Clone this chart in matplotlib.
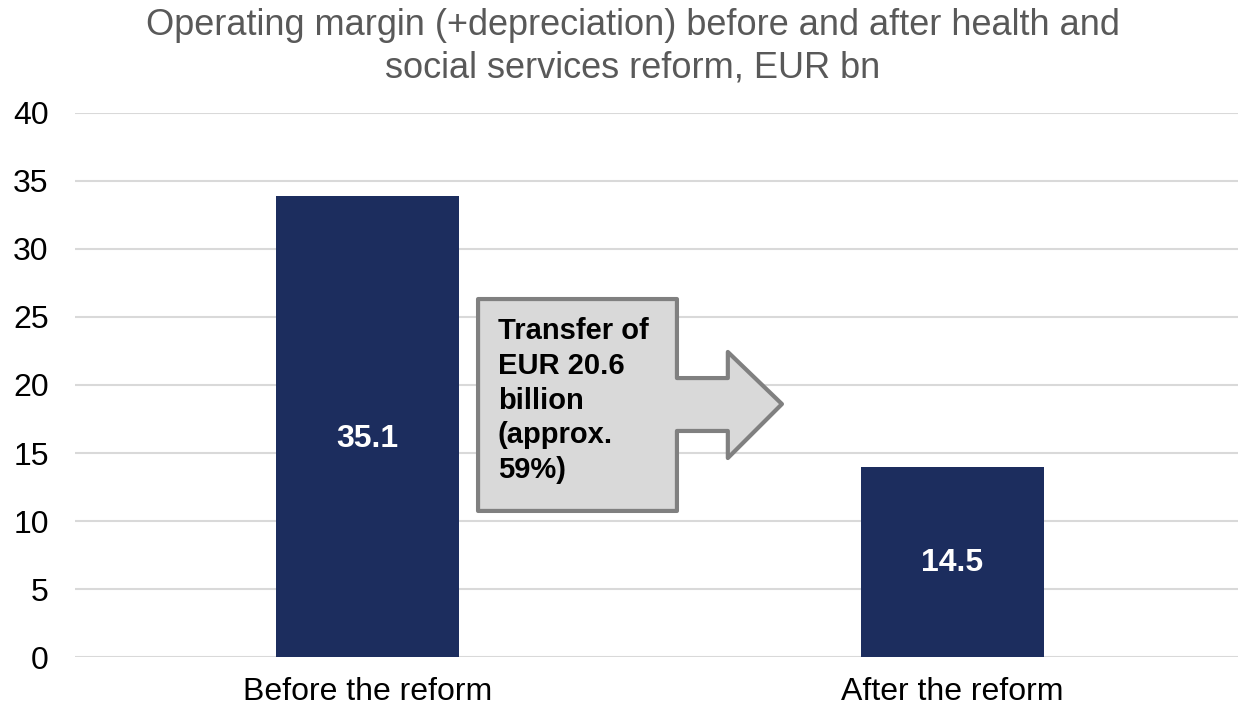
import matplotlib
matplotlib.use("Agg")
import matplotlib.pyplot as plt
from matplotlib.patches import Polygon

plt.rcParams['font.family'] = ['Liberation Sans', 'DejaVu Sans']

categories = ["Before the reform", "After the reform"]
bar_heights = [33.9, 14.0]
bar_labels = ["35.1", "14.5"]
label_y = [16.0, 6.9]
callout_text = "Transfer of\nEUR 20.6\nbillion\n(approx.\n59%)"
title = "Operating margin (+depreciation) before and after health and\nsocial services reform, EUR bn"

fig = plt.figure(figsize=(12.38, 7.07), dpi=100)
ax = fig.add_axes([0.0606, 0.0707, 0.945, 0.7695])

x = range(len(categories))
ax.bar(x, bar_heights, width=0.313, color="#1c2d5e", zorder=2)
for i, lab in enumerate(bar_labels):
    ax.text(i, label_y[i], lab, ha="center", va="center", color="white",
            fontsize=23, fontweight="bold", zorder=3)

ax.set_xlim(-0.5, 1.5)
ax.set_ylim(0, 40)
ax.set_yticks(range(0, 41, 5))
ax.set_xticks(list(x))
ax.set_xticklabels(categories)
ax.tick_params(length=0, labelsize=23, colors="black")
ax.tick_params(axis="x", pad=14.5)
ax.tick_params(axis="y", pad=19)
ax.grid(axis="y", color="#d9d9d9", linewidth=1.5, zorder=0)
ax.set_axisbelow(True)
for s in ax.spines.values():
    s.set_visible(False)

# callout arrow (box + right arrow)
bx0, bx1, sx, tip = 0.189, 0.529, 0.616, 0.7085
by0, by1 = 10.74, 26.32
sy0, sy1 = 16.62, 20.51
hy0, hy1, ty = 14.63, 22.43, 18.6
pts = [(bx0, by0), (bx0, by1), (bx1, by1), (bx1, sy1), (sx, sy1), (sx, hy1),
       (tip, ty), (sx, hy0), (sx, sy0), (bx1, sy0), (bx1, by0)]
ax.add_patch(Polygon(pts, closed=True, facecolor="#d9d9d9", edgecolor="#808080",
                     linewidth=3, joinstyle="round", zorder=4))
ax.text(bx0 + 0.034, by1 - 1.35, callout_text, ha="left", va="top", fontsize=21,
        fontweight="bold", color="black", linespacing=1.3, zorder=5)

fig.text(0.511, 0.988, title, ha="center", va="top", fontsize=26,
         color="#595959", linespacing=1.25)

fig.savefig("out.png", dpi=100)
